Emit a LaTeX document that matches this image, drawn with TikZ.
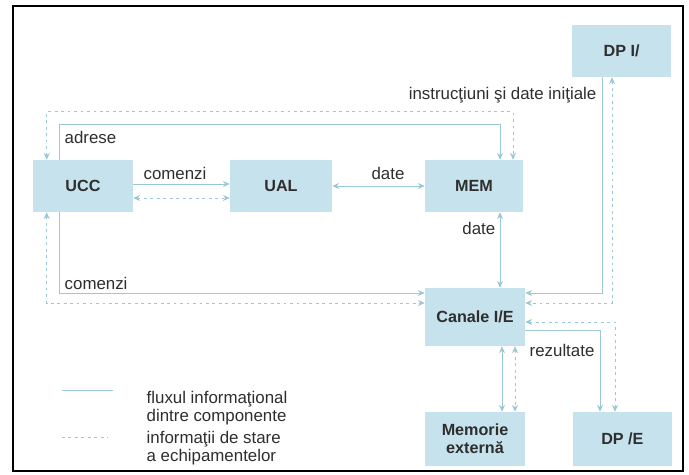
\documentclass[tikz,border=0pt]{standalone}
\usepackage{fontspec}
\setmainfont{Liberation Sans}
\usetikzlibrary{arrows.meta,positioning,calc}
\definecolor{boxblue}{HTML}{C6E2EC}
\definecolor{lineblue}{HTML}{9CC7D7}
\definecolor{inkgrey}{HTML}{2E2E2E}

\begin{document}
\begin{tikzpicture}[x=1cm,y=1cm,font=\fontsize{12}{13}\selectfont,text=inkgrey,
 box/.style={fill=boxblue,draw=none,align=center,inner sep=3pt,minimum width=2.5cm,minimum height=1.3cm,
  font=\bfseries\fontsize{11.5}{12.5}\selectfont},
 flux/.style={line width=.6pt,draw=lineblue},
 info/.style={flux,dash pattern=on 2pt off 2.6pt},
 ar/.style={-{Stealth[length=1.7mm,width=1.5mm]}},
 dar/.style={{Stealth[length=1.7mm,width=1.5mm]}-{Stealth[length=1.7mm,width=1.5mm]}},
 lab/.style={inner sep=1pt}]
\useasboundingbox (0,0) rectangle (17.225,11.875);
\draw[line width=1.4pt] (.325,.1) rectangle (17.075,11.725);
\node[box,minimum width=2.475cm] (dpi) at (15.54,10.6) {DP I/};
\node[box] (ucc) at (2.075,7.225) {UCC};
\node[box,minimum width=2.55cm] (ual) at (7.025,7.225) {UAL};
\node[box,minimum width=2.45cm] (mem) at (11.85,7.225) {MEM};
\node[box,minimum height=1.45cm] (can) at (11.875,3.95) {Canale I/E};
\node[box,minimum height=1.35cm] (mext) at (11.875,.9) {Memorie\\externă};
\node[box,minimum height=1.35cm,minimum width=2.475cm] (dpe) at (15.56,.9) {DP /E};
% UCC -- MEM
\draw[flux,ar] ([xshift=.675cm]ucc.north west) -- ++(0,.875) -| ([xshift=.65cm]mem.north);
\draw[info,dar] ([xshift=.35cm]ucc.north west) -- ++(0,1.2) -| ([xshift=.975cm]mem.north);
\node[lab,anchor=west] (adr) at (1.575,8.45) {adrese};
% UCC -- UAL -- MEM
\draw[flux,ar] ([yshift=.05cm]ucc.east) -- ([yshift=.05cm]ual.west);
\draw[info,dar] ([yshift=-.3cm]ucc.east) -- ([yshift=-.3cm]ual.west);
\node[lab] (cmd1) at (4.375,7.55) {comenzi};
\draw[flux,dar] (ual) -- (mem);
\node[lab] (dat1) at (9.7,7.55) {date};
\draw[flux,dar] ([xshift=.65cm]mem.south) -- ([xshift=.65cm]mem.south |- can.north);
\node[lab,anchor=east] (dat2) at (12.425,6.175) {date};
% UCC -- Canale
\draw[flux,ar] ([xshift=.675cm]ucc.south west) |- ([yshift=.6cm]can.west);
\draw[info,dar] ([xshift=.35cm]ucc.south west) |- ([yshift=.35cm]can.west);
\node[lab,anchor=west] (cmd2) at (1.575,4.8) {comenzi};
% DP I/ -- Canale
\draw[flux,ar] ([xshift=-.49cm]dpi.south) |- ([yshift=.6cm]can.east);
\draw[info,dar] ([xshift=-.24cm]dpi.south) |- ([yshift=.35cm]can.east);
\node[lab,anchor=east] (ins) at (14.95,9.5) {instrucţiuni şi date iniţiale};
% Canale -- DP /E, memorie
\draw[flux,ar] ([yshift=-.325cm]can.east) -| ([xshift=-.56cm]dpe.north);
\draw[info,dar] ([yshift=-.125cm]can.east) -| ([xshift=-.185cm]dpe.north);
\node[lab,anchor=west] (rez) at (13.2,3.125) {rezultate};
\draw[flux,dar] ([xshift=.675cm]can.south) -- ([xshift=.675cm]can.south |- mext.north);
\draw[info,dar] ([xshift=1cm]can.south) -- ([xshift=1cm]can.south |- mext.north);
% legend
\coordinate (lg1) at (1.55,2.125);
\coordinate (lg2) at (1.55,.95);
\draw[flux] (lg1) -- ++(1.275,0);
\draw[info] (lg2) -- ++(1.15,0);
\node[lab,anchor=west,align=left] (leg1) at (3.625,1.675) {fluxul informaţional\\dintre componente};
\node[lab,anchor=west,align=left] (leg2) at (3.625,.675) {informaţii de stare\\a echipamentelor};
\end{tikzpicture}
\end{document}
